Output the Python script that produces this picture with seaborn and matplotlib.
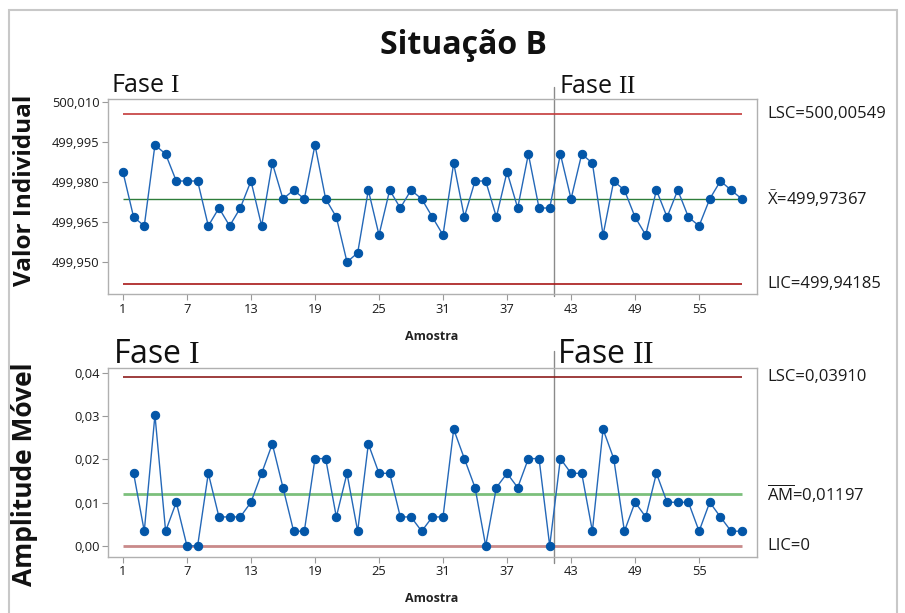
import numpy as np
import pandas as pd
import matplotlib
matplotlib.use("Agg")
import matplotlib.pyplot as plt
import matplotlib.transforms as mtransforms
from matplotlib.patches import Rectangle
from matplotlib.ticker import FuncFormatter, FixedLocator
import seaborn as sns

# ---------------- data ----------------
amostra = list(range(1, 60))
valor_individual = [
    499.9838, 499.9669, 499.9636, 499.9939, 499.9905, 499.9804, 499.9804, 499.9804, 499.9636, 499.9703,
    499.9636, 499.9703, 499.9804, 499.9636, 499.9871, 499.9737, 499.9770, 499.9737, 499.9939, 499.9737,
    499.9669, 499.9501, 499.9535, 499.9770, 499.9602, 499.9770, 499.9703, 499.9770, 499.9737, 499.9669,
    499.9602, 499.9871, 499.9669, 499.9804, 499.9804, 499.9669, 499.9838, 499.9703, 499.9905, 499.9703,
    499.9703, 499.9905, 499.9737, 499.9905, 499.9871, 499.9602, 499.9804, 499.9770, 499.9669, 499.9602,
    499.9770, 499.9669, 499.9770, 499.9669, 499.9636, 499.9737, 499.9804, 499.9770, 499.9737,
]
amplitude_movel = [
    np.nan, 0.0168, 0.0034, 0.0303, 0.0034, 0.0101, 0.0, 0.0, 0.0168, 0.0067,
    0.0067, 0.0067, 0.0101, 0.0168, 0.0236, 0.0135, 0.0034, 0.0034, 0.0202, 0.0202,
    0.0067, 0.0168, 0.0034, 0.0236, 0.0168, 0.0168, 0.0067, 0.0067, 0.0034, 0.0067,
    0.0067, 0.0270, 0.0202, 0.0135, 0.0, 0.0135, 0.0168, 0.0135, 0.0202, 0.0202,
    0.0, 0.0202, 0.0168, 0.0168, 0.0034, 0.0270, 0.0202, 0.0034, 0.0101, 0.0067,
    0.0168, 0.0101, 0.0101, 0.0101, 0.0034, 0.0101, 0.0067, 0.0034, 0.0034,
]
i_lsc, i_centro, i_lic = 500.00549, 499.97367, 499.94185
mr_lsc, mr_centro, mr_lic = 0.03910, 0.01197, 0.0
i_labels = ["LSC=500,00549", r"$\bar{\mathsf{X}}$=499,97367", "LIC=499,94185"]
mr_labels = ["LSC=0,03910", r"$\overline{\mathsf{AM}}$=0,01197", "LIC=0"]
x_ticks = [1, 7, 13, 19, 25, 31, 37, 43, 49, 55]
i_ticks = [499.950, 499.965, 499.980, 499.995, 500.010]
mr_ticks = [0.00, 0.01, 0.02, 0.03, 0.04]
fase_limite = 41.4

df_i = pd.DataFrame({"Amostra": amostra, "Valor": valor_individual})
df_mr = pd.DataFrame({"Amostra": amostra, "AM": amplitude_movel})

# ---------------- style ----------------
sns.set_theme(style="white")
FAM = ["Open Sans", "DejaVu Sans"]
plt.rcParams["font.family"] = FAM
plt.rcParams["mathtext.fontset"] = "custom"
plt.rcParams["mathtext.rm"] = "Liberation Serif"
plt.rcParams["mathtext.sf"] = "Open Sans"

W, H = 905, 613
def fx(px):
    return px / W
def fy(py):
    return 1 - py / H

fig = plt.figure(figsize=(9.05, 6.13), dpi=100)
fig.patch.set_facecolor("white")
ax1 = fig.add_axes([fx(108), fy(294.3), (756.7 - 108) / W, (294.3 - 99) / H])
ax2 = fig.add_axes([fx(108), fy(556.7), (756.7 - 108) / W, (556.7 - 368.3) / H])

line_c = "#2468b8"
mark_c = "#0356a8"

sns.lineplot(data=df_i, x="Amostra", y="Valor", ax=ax1, color=line_c, lw=1.0,
             marker="o", markersize=6, markerfacecolor=mark_c, markeredgecolor=mark_c,
             estimator=None, errorbar=None, sort=False, zorder=5)
sns.lineplot(data=df_mr.dropna(), x="Amostra", y="AM", ax=ax2, color=line_c, lw=1.0,
             marker="o", markersize=6, markerfacecolor=mark_c, markeredgecolor=mark_c,
             estimator=None, errorbar=None, sort=False, zorder=5)

x0, x1 = amostra[0], amostra[-1]
ax1.hlines(i_lsc, x0, x1, color="#c43a3a", lw=1.2, zorder=3)
ax1.hlines(i_centro, x0, x1, color="#2e7d3a", lw=1.0, zorder=3)
ax1.hlines(i_lic, x0, x1, color="#a81818", lw=1.2, zorder=3)
ax2.hlines(mr_lsc, x0, x1, color="#8e1c1c", lw=1.2, zorder=3)
ax2.hlines(mr_centro, x0, x1, color="#7cc07c", lw=2.0, zorder=3)
ax2.hlines(mr_lic, x0, x1, color="#c98a8a", lw=2.0, zorder=3)

ax1.axvline(fase_limite, ymin=-0.01, ymax=1.06, color="#8a8a8a", lw=1.0, clip_on=False, zorder=2)
ax2.axvline(fase_limite, ymin=-0.035, ymax=1.09, color="#8a8a8a", lw=1.0, clip_on=False, zorder=2)

comma = FuncFormatter(lambda v, p: f"{v:.3f}".replace(".", ","))
comma2 = FuncFormatter(lambda v, p: f"{v:.2f}".replace(".", ","))
for ax, ticks, fmt, ylim in [(ax1, i_ticks, comma, (499.938, 500.0111)),
                             (ax2, mr_ticks, comma2, (-0.0025, 0.0411))]:
    ax.set_xlim(-0.4, 60.4)
    ax.set_ylim(*ylim)
    ax.xaxis.set_major_locator(FixedLocator(x_ticks))
    ax.yaxis.set_major_locator(FixedLocator(ticks))
    ax.yaxis.set_major_formatter(fmt)
    ax.set_xlabel("")
    ax.set_ylabel("")
    ax.tick_params(axis="both", direction="out", length=4, width=0.8, color="#9a9a9a",
                   labelsize=9.3, labelcolor="#1a1a1a", pad=2, left=True, bottom=True)
    for s in ax.spines.values():
        s.set_color("#b0b0b0")
        s.set_linewidth(1.0)

# right-side limit labels
for ax, vals, labs in [(ax1, [i_lsc, i_centro, i_lic], i_labels),
                       (ax2, [mr_lsc, mr_centro, mr_lic], mr_labels)]:
    tr = mtransforms.blended_transform_factory(fig.transFigure, ax.transData)
    for v, t in zip(vals, labs):
        fig.text(fx(767), v, t, transform=tr, ha="left", va="center",
                 fontsize=12, color="#1a1a1a")

# titles and labels
fig.text(fx(463), fy(45), "Situação B", ha="center", va="center", fontsize=23,
         fontweight="bold", color="#111111")
fig.text(fx(25), fy(190), "Valor Individual", rotation=90, ha="center", va="center",
         fontsize=17.5, fontweight="bold", color="#111111")
fig.text(fx(25), fy(474), "Amplitude Móvel", rotation=90, ha="center", va="center",
         fontsize=19, fontweight="bold", color="#111111")
fig.text(fx(432), fy(337), "Amostra", ha="center", va="center", fontsize=9,
         fontweight="bold", color="#222222")
fig.text(fx(432), fy(599), "Amostra", ha="center", va="center", fontsize=9,
         fontweight="bold", color="#222222")

fig.text(fx(111), fy(92), r"Fase $\mathrm{I}$", ha="left", va="baseline", fontsize=18, color="#111111")
fig.text(fx(559), fy(93), r"Fase $\mathrm{II}$", ha="left", va="baseline", fontsize=18, color="#111111")
fig.text(fx(113), fy(363), r"Fase $\mathrm{I}$", ha="left", va="baseline", fontsize=23, color="#111111")
fig.text(fx(557), fy(363), r"Fase $\mathrm{II}$", ha="left", va="baseline", fontsize=23, color="#111111")

# outer frame
fig.patches.append(Rectangle((fx(9), -0.02), fx(897) - fx(9), fy(10) + 0.02, fill=False,
                             edgecolor="#c8c8c8", lw=1.5, transform=fig.transFigure))

fig.savefig("out.png", dpi=100)
